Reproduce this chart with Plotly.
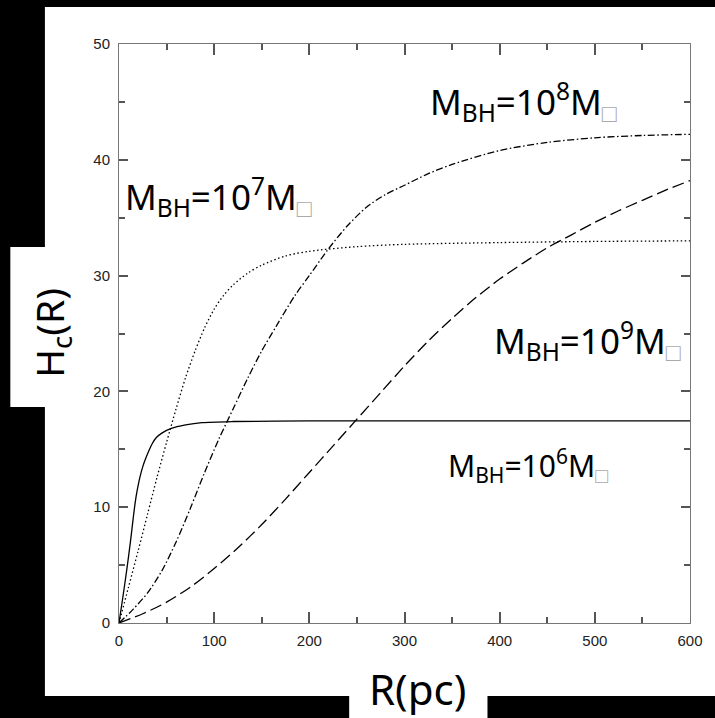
import plotly.graph_objects as go

# ---- data ----
R6 = [0, 4, 8, 12, 15, 17, 19, 22, 25, 28, 31.5, 35, 39, 45, 55, 70, 87, 120, 200, 300, 400, 500, 600]
H6 = [0, 2.2, 4.5, 7.0, 9.1, 10.4, 11.4, 12.6, 13.5, 14.2, 14.9, 15.5, 16.0, 16.4, 16.8, 17.1, 17.3, 17.4, 17.45, 17.45, 17.45, 17.45, 17.45]

R7 = [0, 10, 20, 30, 40, 50, 60, 70, 80, 90, 100, 110, 120, 135, 150, 175, 200, 250, 300, 400, 500, 600]
H7 = [0, 3.1, 6.2, 9.4, 12.6, 15.6, 18.5, 21.2, 23.5, 25.5, 27.1, 28.3, 29.2, 30.2, 30.9, 31.7, 32.1, 32.5, 32.7, 32.85, 32.95, 33.0]

R8 = [0, 15, 30, 45, 60, 75, 90, 105, 120, 135, 150, 165, 185, 200, 220, 240, 260, 280, 300, 325, 350, 400, 450, 500, 550, 600]
H8 = [0, 1.2, 2.6, 4.5, 7.0, 9.9, 13.0, 15.9, 18.5, 21.1, 23.5, 25.6, 28.3, 30.0, 32.3, 34.3, 35.9, 37.0, 37.8, 38.8, 39.6, 40.8, 41.5, 41.9, 42.1, 42.2]

R9 = [0, 25, 50, 75, 100, 125, 150, 175, 200, 225, 250, 275, 300, 325, 350, 375, 400, 425, 450, 475, 500, 525, 550, 575, 600]
H9 = [0, 0.8, 1.8, 3.1, 4.7, 6.5, 8.5, 10.7, 13.0, 15.3, 17.6, 19.9, 22.2, 24.35, 26.3, 28.1, 29.7, 31.1, 32.4, 33.5, 34.6, 35.6, 36.5, 37.4, 38.2]

x_ticks = [0, 100, 200, 300, 400, 500, 600]
y_ticks = [0, 10, 20, 30, 40, 50]
x_minor = [50, 150, 250, 350, 450, 550]
y_minor = [5, 15, 25, 35, 45]

labels = ["M<sub>BH</sub>=10<sup>6</sup>M<sub><span style='color:#aaa'>□</span></sub>",
          "M<sub>BH</sub>=10<sup>7</sup>M<sub><span style='color:#aaa'>□</span></sub>",
          "M<sub>BH</sub>=10<sup>8</sup>M<sub><span style='color:#aaa'>□</span></sub>",
          "M<sub>BH</sub>=10<sup>9</sup>M<sub><span style='color:#aaa'>□</span></sub>"]
label_x = [430, 105, 425, 492]
label_y = [13.6, 36.8, 45.0, 24.4]
label_size = [30, 35, 35, 35]

fig = go.Figure()
lw = 1.3
sm = 0.8
fig.add_trace(go.Scatter(x=R6, y=H6, mode="lines", line=dict(color="black", width=lw, shape="spline", smoothing=sm)))
fig.add_trace(go.Scatter(x=R7, y=H7, mode="lines", line=dict(color="black", width=lw, dash="1.5px,2.5px", shape="spline", smoothing=sm)))
fig.add_trace(go.Scatter(x=R8, y=H8, mode="lines", line=dict(color="black", width=lw, dash="7px,2.5px,1.5px,2.5px", shape="spline", smoothing=sm)))
fig.add_trace(go.Scatter(x=R9, y=H9, mode="lines", line=dict(color="black", width=lw, dash="12px,5px", shape="spline", smoothing=sm)))

W, H = 715, 718
L, Rm, T, B = 119, 18, 44, 95
pw, ph = W - L - Rm, H - T - B

def px(x):
    return (x - L) / pw

def py(y):
    return (H - B - y) / ph

def black(x0, y0, x1, y1):
    return dict(type="rect", xref="paper", yref="paper", x0=px(x0), x1=px(x1), y0=py(y1), y1=py(y0),
                fillcolor="black", line=dict(width=0), layer="above")

shapes = [
    black(-5, -5, 725, 7),
    black(-5, -5, 44, 247),
    black(-5, 247, 9, 407),
    black(-5, 407, 44, 725),
    black(-5, 696, 352, 725),
    black(492, 696, 725, 725),
]

annotations = []
for t, x, y, s in zip(labels, label_x, label_y, label_size):
    annotations.append(dict(x=x, y=y, xref="x", yref="y", text=t, showarrow=False,
                            xanchor="center", yanchor="middle",
                            font=dict(family="Noto Sans", size=s, color="black")))
annotations.append(dict(x=px(50), y=py(333), xref="paper", yref="paper", text="H<sub>c</sub>(R)",
                        textangle=-90, showarrow=False, xanchor="center", yanchor="middle",
                        font=dict(family="Noto Sans", size=39, color="black")))
annotations.append(dict(x=px(421), y=py(688), xref="paper", yref="paper", text="R(pc)",
                        showarrow=False, xanchor="center", yanchor="middle",
                        font=dict(family="Noto Sans", size=42, color="black")))

tf = dict(family="Liberation Sans", size=15, color="#222")
tc = "#555"

fig.update_layout(
    width=W, height=H, margin=dict(l=L, r=Rm, t=T, b=B),
    paper_bgcolor="white", plot_bgcolor="white", showlegend=False,
    shapes=shapes, annotations=annotations,
)
fig.update_xaxes(range=[0, 600], tickvals=x_ticks, showgrid=False, zeroline=False,
                 showline=True, linecolor="#777", linewidth=1, mirror="allticks",
                 ticks="inside", ticklen=11, tickwidth=1.5, tickcolor=tc, tickfont=tf,
                 ticklabelstandoff=4,
                 minor=dict(ticks="inside", tickvals=x_minor, ticklen=6, tickwidth=1.5, tickcolor=tc))
fig.update_yaxes(range=[0, 50], tickvals=y_ticks, showgrid=False, zeroline=False,
                 showline=True, linecolor="#777", linewidth=1, mirror="allticks",
                 ticks="inside", ticklen=9, tickwidth=1.5, tickcolor=tc, tickfont=tf,
                 ticklabelstandoff=5,
                 minor=dict(ticks="inside", tickvals=y_minor, ticklen=6, tickwidth=1.5, tickcolor=tc))

fig.write_html("out.html")
